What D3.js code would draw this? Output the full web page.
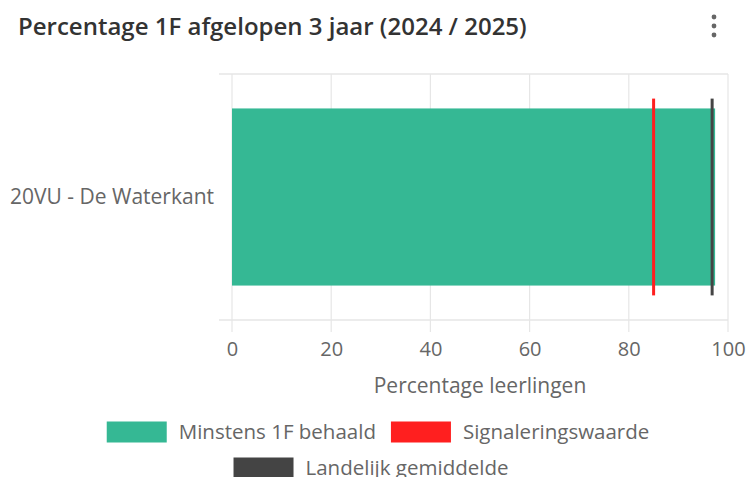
<!DOCTYPE html>
<html>
<head>
<meta charset="utf-8">
<script src="https://cdn.jsdelivr.net/npm/d3@7"></script>
<style>
  body { margin: 0; background: #fff; font-family: "Open Sans", sans-serif; }
</style>
</head>
<body>
<div id="chart"></div>
<script>
// data
var categories = ["20VU - De Waterkant"];
var behaald = [97.4];          // Minstens 1F behaald
var signalering = [85];        // Signaleringswaarde
var landelijk = [96.8];        // Landelijk gemiddelde
var xTicks = [0, 20, 40, 60, 80, 100];
var legendItems = ["Minstens 1F behaald", "Signaleringswaarde", "Landelijk gemiddelde"];
var colors = ["#35b894", "#ff1f1f", "#444444"];

var W = 748, H = 477;
var margin = {top: 74, right: 20, bottom: 157, left: 232};
var w = W - margin.left - margin.right,
    h = H - margin.top - margin.bottom;

var svg = d3.select("#chart").append("svg")
	.attr("width", W)
	.attr("height", H);

svg.append("text")
	.attr("x", 18).attr("y", 35)
	.style("font-size", "24px").style("font-weight", 600)
	.style("fill", "#333")
	.text("Percentage 1F afgelopen 3 jaar (2024 / 2025)");

// menu dots
[17, 26, 35].forEach(function(cy) {
	svg.append("circle").attr("cx", 714).attr("cy", cy).attr("r", 2.4).style("fill", "#666");
});

var g = svg.append("g")
	.attr("transform", "translate(" + margin.left + "," + margin.top + ")");

var x = d3.scaleLinear().domain([0, 100]).range([0, w]);
var y = d3.scaleBand().domain(categories).range([0, h]).paddingInner(0).paddingOuter(0);

// grid + ticks below
g.selectAll(".grid").data(xTicks).enter().append("line")
	.attr("x1", function(d) { return x(d); }).attr("x2", function(d) { return x(d); })
	.attr("y1", 0).attr("y2", h + 12)
	.style("stroke", "#e6e6e6").style("stroke-width", 1.2);

// category axis lines
[0, h].forEach(function(yy) {
	g.append("line").attr("x1", -13).attr("x2", w).attr("y1", yy).attr("y2", yy)
		.style("stroke", "#e6e6e6").style("stroke-width", 1.5);
});

var xAxis = g.append("g").attr("transform", "translate(0," + h + ")")
	.call(d3.axisBottom(x).tickValues(xTicks).tickSize(0).tickPadding(22));
xAxis.select(".domain").remove();
xAxis.selectAll("text").style("font-size", "20px").style("fill", "#666")
	.style("font-family", "'Open Sans', sans-serif");

var yAxis = g.append("g")
	.call(d3.axisLeft(y).tickSize(0).tickPadding(18));
yAxis.select(".domain").remove();
yAxis.selectAll("text").style("font-size", "21px").style("fill", "#666")
	.style("font-family", "'Open Sans', sans-serif");

g.append("text")
	.attr("x", w / 2).attr("y", h + 73)
	.attr("text-anchor", "middle")
	.style("font-size", "21px").style("fill", "#666")
	.text("Percentage leerlingen");

var bw = y.bandwidth();
g.selectAll(".bar").data(behaald).enter().append("rect")
	.attr("x", x(0))
	.attr("y", function(d, i) { return y(categories[i]) + bw * 0.14; })
	.attr("width", function(d) { return x(d) - x(0); })
	.attr("height", bw * 0.72)
	.style("fill", colors[0]);

function refLine(data, color) {
	g.selectAll(null).data(data).enter().append("line")
		.attr("x1", function(d) { return x(d); }).attr("x2", function(d) { return x(d); })
		.attr("y1", function(d, i) { return y(categories[i]) + bw * 0.1; })
		.attr("y2", function(d, i) { return y(categories[i]) + bw * 0.9; })
		.style("stroke", color).style("stroke-width", 3);
}
refLine(signalering, colors[1]);
refLine(landelijk, colors[2]);

// legend
var rows = [[0, 1], [2]];
var rowY = [432, 468];
rows.forEach(function(row, ri) {
	var lg = svg.append("g");
	var cx = 0;
	row.forEach(function(k) {
		var item = lg.append("g").attr("transform", "translate(" + cx + ",0)");
		item.append("rect").attr("x", 0).attr("y", -10.5).attr("width", 60).attr("height", 21)
			.style("fill", colors[k]);
		var t = item.append("text").attr("x", 72).attr("y", 7)
			.style("font-size", "20.5px").style("fill", "#666")
			.text(legendItems[k]);
		cx += 72 + t.node().getComputedTextLength() + 15;
	});
	var total = cx - 15;
	var center = ri == 0 ? 378 : 371;
	lg.attr("transform", "translate(" + (center - total / 2) + "," + rowY[ri] + ")");
});
</script>
</body>
</html>
